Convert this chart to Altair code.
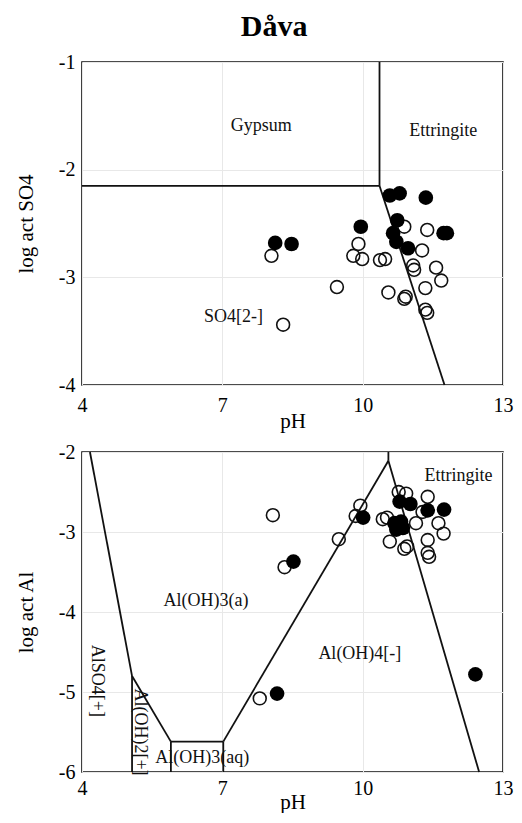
import altair as alt
import pandas as pd

FONT = "Liberation Serif"

# ---------------- top panel (log act SO4) ----------------
so4_filled_ph = [8.13, 8.48, 9.96, 10.58, 10.79, 11.35, 10.74, 10.65, 10.72, 10.97, 11.73, 11.80]
so4_filled_log = [-2.68, -2.69, -2.53, -2.24, -2.22, -2.26, -2.47, -2.59, -2.67, -2.73, -2.59, -2.59]

so4_open_ph = [8.05, 9.91, 9.80, 9.99, 10.37, 10.48, 10.89, 11.38, 11.27, 11.08, 11.10,
               11.57, 11.68, 10.55, 10.89, 10.92, 11.34, 11.34, 11.38, 9.45, 8.30]
so4_open_log = [-2.80, -2.69, -2.80, -2.83, -2.84, -2.83, -2.53, -2.56, -2.75, -2.89, -2.93,
                -2.91, -3.03, -3.14, -3.20, -3.18, -3.10, -3.30, -3.33, -3.09, -3.44]

so4_seg_x1 = [4.0, 10.36, 10.36]
so4_seg_y1 = [-2.15, -2.15, -2.15]
so4_seg_x2 = [10.36, 10.36, 11.75]
so4_seg_y2 = [-2.15, -1.0, -4.0]

so4_lab_text = ["Gypsum", "Ettringite", "SO4[2-]"]
so4_lab_x = [7.83, 11.72, 7.24]
so4_lab_y = [-1.59, -1.64, -3.37]

# ---------------- bottom panel (log act Al) ----------------
al_filled_ph = [10.01, 8.52, 8.17, 12.41, 10.79, 11.02, 11.39, 11.74, 10.68, 10.82, 10.72, 10.86]
al_filled_log = [-2.82, -3.37, -5.02, -4.78, -2.62, -2.65, -2.73, -2.72, -2.89, -2.87, -2.97, -2.95]

al_open_ph = [8.08, 9.95, 9.85, 9.49, 8.33, 7.80, 10.77, 10.93, 11.39, 10.43, 10.52,
              11.14, 11.28, 11.62, 11.73, 11.39, 10.58, 10.89, 10.95, 11.39, 11.42]
al_open_log = [-2.79, -2.67, -2.80, -3.09, -3.44, -5.08, -2.50, -2.52, -2.56, -2.84, -2.82,
               -2.89, -2.75, -2.89, -3.02, -3.10, -3.12, -3.21, -3.18, -3.26, -3.31]

al_seg_x1 = [4.17, 5.07, 5.07, 5.90, 5.90, 7.02, 7.02, 10.55, 10.55]
al_seg_y1 = [-2.0, -4.80, -4.80, -5.62, -5.62, -5.62, -5.62, -2.11, -2.11]
al_seg_x2 = [5.07, 5.90, 5.07, 7.02, 5.90, 7.02, 10.55, 10.55, 12.49]
al_seg_y2 = [-4.80, -5.62, -6.0, -5.62, -6.0, -6.0, -2.11, -2.0, -6.0]

al_lab_text = ["Ettringite", "Al(OH)3(a)", "Al(OH)4[-]", "Al(OH)3(aq)"]
al_lab_x = [12.05, 6.65, 9.94, 6.57]
al_lab_y = [-2.30, -3.86, -4.53, -5.83]

al_rot_text = ["AlSO4[+]", "Al(OH)2[+]"]
al_rot_x = [4.33, 5.25]
al_rot_y = [-4.86, -5.50]

x_ticks = [4, 7, 10, 13]


def panel(ytitle, ydom, yvals, fph, flog, oph, olog, sx1, sy1, sx2, sy2,
          ltext, lx, ly, rtext=None, rx=None, ry=None, h=323,
          xlabpad=8, xtitlepad=-4):
    xs = alt.Scale(domain=[4, 13], nice=False, zero=False)
    ys = alt.Scale(domain=ydom, nice=False, zero=False)
    xax = alt.Axis(values=x_ticks, title="pH", labelExpr="'' + datum.value",
                   labelPadding=xlabpad, titlePadding=xtitlepad)
    yax = alt.Axis(values=yvals, title=ytitle, labelExpr="'' + datum.value")

    segs = pd.DataFrame({"x": sx1, "y": sy1, "x2": sx2, "y2": sy2})
    lines = alt.Chart(segs).mark_rule(color="#111111", strokeWidth=1.8).encode(
        x=alt.X("x:Q", scale=xs, axis=xax),
        y=alt.Y("y:Q", scale=ys, axis=yax),
        x2="x2:Q", y2="y2:Q")

    odf = pd.DataFrame({"ph": oph, "log": olog})
    opn = alt.Chart(odf).mark_point(shape="circle", filled=False, color="#111111",
                                    strokeWidth=1.6, size=165, opacity=1).encode(
        x=alt.X("ph:Q", scale=xs), y=alt.Y("log:Q", scale=ys))

    fdf = pd.DataFrame({"ph": fph, "log": flog})
    fil = alt.Chart(fdf).mark_point(shape="circle", filled=True, color="#000000",
                                    size=215, opacity=1).encode(
        x=alt.X("ph:Q", scale=xs), y=alt.Y("log:Q", scale=ys))

    ldf = pd.DataFrame({"t": ltext, "x": lx, "y": ly})
    labs = alt.Chart(ldf).mark_text(font=FONT, fontSize=18, color="#111111",
                                    align="center", baseline="middle").encode(
        x=alt.X("x:Q", scale=xs), y=alt.Y("y:Q", scale=ys), text="t:N")

    layers = [lines, opn, fil, labs]
    if rtext:
        rdf = pd.DataFrame({"t": rtext, "x": rx, "y": ry})
        rl = alt.Chart(rdf).mark_text(font=FONT, fontSize=18, color="#111111", angle=90,
                                      align="center", baseline="middle").encode(
            x=alt.X("x:Q", scale=xs), y=alt.Y("y:Q", scale=ys), text="t:N")
        layers.append(rl)
    return alt.layer(*layers).properties(width=421, height=h)


top = panel("log act SO4", [-4, -1], [-4, -3, -2, -1],
            so4_filled_ph, so4_filled_log, so4_open_ph, so4_open_log,
            so4_seg_x1, so4_seg_y1, so4_seg_x2, so4_seg_y2,
            so4_lab_text, so4_lab_x, so4_lab_y, h=323,
            xlabpad=10, xtitlepad=-5)

bottom = panel("log act Al", [-6, -2], [-6, -5, -4, -3, -2],
               al_filled_ph, al_filled_log, al_open_ph, al_open_log,
               al_seg_x1, al_seg_y1, al_seg_x2, al_seg_y2,
               al_lab_text, al_lab_x, al_lab_y,
               al_rot_text, al_rot_x, al_rot_y, h=320,
               xlabpad=6, xtitlepad=-7)

chart = alt.vconcat(top, bottom, spacing=9).properties(
    title=alt.TitleParams("Dåva", font=FONT, fontSize=30, fontWeight="bold",
                          color="#000000", anchor="middle", offset=9, dx=10),
    padding={"top": 4, "left": 6, "right": 0, "bottom": 0}
).configure_view(stroke="#111111", strokeWidth=1.6).configure_axis(
    labelFont=FONT, labelFontSize=20, labelColor="#000000",
    titleFont=FONT, titleFontSize=21, titleFontWeight="normal", titleColor="#000000",
    domain=False, ticks=False, tickSize=0, grid=True, gridColor="#e8e8e8",
    gridWidth=1, labelFlush=False
).configure_axisY(labelPadding=7, titlePadding=22)

chart.save("out.html", embed_options={"renderer": "svg", "actions": False})
